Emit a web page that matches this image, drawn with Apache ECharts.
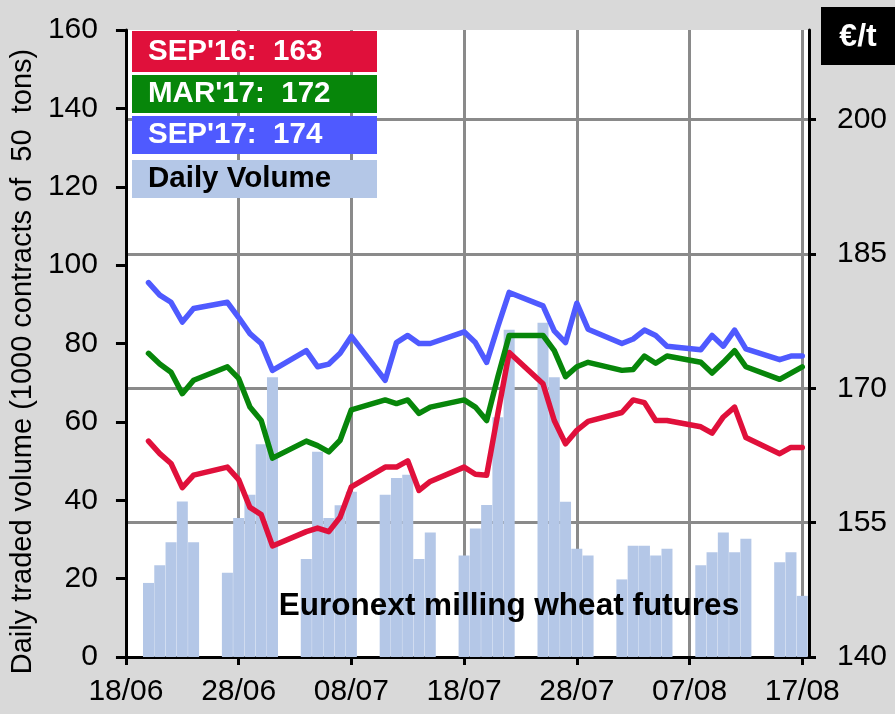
<!DOCTYPE html>
<html><head><meta charset="utf-8">
<script src="https://cdn.jsdelivr.net/npm/echarts@6/dist/echarts.min.js"></script>
<style>html,body{margin:0;padding:0;background:#d9d9d9}#c{width:895px;height:714px}</style>
</head><body><div id="c"></div>
<script>
// ---- data ----
const startDate = [2016, 6, 18];
const tradeDates = [
  '20/06','21/06','22/06','23/06','24/06',
  '27/06','28/06','29/06','30/06','01/07',
  '04/07','05/07','06/07','07/07','08/07',
  '11/07','12/07','13/07','14/07','15/07',
  '18/07','19/07','20/07','21/07','22/07',
  '25/07','26/07','27/07','28/07','29/07',
  '01/08','02/08','03/08','04/08','05/08',
  '08/08','09/08','10/08','11/08','12/08',
  '15/08','16/08','17/08'
];
const volume = [
  18.9, 23.4, 29.3, 39.7, 29.3,
  21.5, 35.5, 41.4, 54.3, 71.4,
  25.0, 52.4, 35.5, 38.7, 42.2,
  41.4, 45.7, 46.5, 25.0, 31.8,
  25.9, 32.8, 38.8, 61.2, 83.5,
  85.3, 71.4, 39.6, 27.6, 25.9,
  19.8, 28.4, 28.4, 25.9, 27.6,
  23.4, 26.7, 31.8, 26.7, 30.2,
  24.2, 26.7, 15.6
];
const sep16 = [
  164.1, 162.7, 161.6, 158.9, 160.3,
  161.2, 159.8, 156.7, 155.9, 152.4,
  154.0, 154.4, 154.0, 155.6, 159.0,
  161.2, 161.2, 161.9, 158.6, 159.6,
  161.2, 160.4, 160.3, 167.2, 174.0,
  170.5, 166.4, 163.8, 165.3, 166.3,
  167.3, 168.7, 168.4, 166.4, 166.4,
  165.7, 165.0, 166.8, 167.9, 164.5,
  162.7, 163.4, 163.4
];
const mar17 = [
  173.9, 172.7, 171.8, 169.4, 170.9,
  172.4, 171.1, 167.9, 166.4, 162.2,
  164.1, 163.6, 162.9, 164.2, 167.6,
  168.7, 168.3, 168.7, 167.2, 167.9,
  168.7, 167.9, 166.4, 171.3, 175.9,
  175.9, 174.2, 171.3, 172.4, 172.9,
  172.0, 172.1, 173.6, 172.8, 173.6,
  172.9, 171.7, 172.9, 174.2, 172.4,
  171.0, 171.7, 172.4
];
const sep17 = [
  181.8, 180.4, 179.6, 177.4, 178.9,
  179.6, 177.9, 176.1, 175.0, 172.0,
  174.2, 172.4, 172.7, 173.9, 175.8,
  170.9, 175.1, 175.9, 175.0, 175.0,
  176.3, 175.1, 172.9, 176.9, 180.7,
  179.2, 176.4, 175.1, 179.5, 176.6,
  175.0, 175.5, 176.5, 175.9, 174.7,
  174.3, 175.9, 174.7, 176.5, 174.4,
  173.2, 173.6, 173.6
];
const xTickLabels = ['18/06','28/06','08/07','18/07','28/07','07/08','17/08'];
const legendLabels = ["SEP'16:  163", "MAR'17:  172", "SEP'17:  174", "Daily Volume"];
const yAxisTitle = 'Daily traded volume (1000 contracts of  50  tons)';
const unitLabel = '€/t';
const noteText = 'Euronext milling wheat futures';

// ---- build ----
const t0 = Date.UTC(startDate[0], startDate[1] - 1, startDate[2]);
const dayIdx = tradeDates.map(s => {
  const [d, m] = s.split('/').map(Number);
  return Math.round((Date.UTC(2016, m - 1, d) - t0) / 86400000);
});
const pairs = arr => arr.map((v, i) => [dayIdx[i], v]);

const FONT = '"Liberation Sans", Arial, sans-serif';
const RED = '#E0103B', GREEN = '#07860A', BLUE = '#4F5AFF', BAR = '#B4C7E7', GRID = '#8a8a8a';

const chart = echarts.init(document.getElementById('c'), null, {renderer: 'canvas'});
const lineSeries = (data, color) => ({
  type: 'line', yAxisIndex: 1, data: pairs(data), showSymbol: false, z: 3,
  lineStyle: {color, width: 5.5, cap: 'round', join: 'round'}, itemStyle: {color}
});
const box = (y, h, fill, text, color) => ({
  type: 'group', z: 100, children: [
    {type: 'rect', shape: {x: 132, y, width: 245, height: h}, style: {fill}, z: 100},
    {type: 'text', x: 148, y: y + h / 2, z: 101,
     style: {text, fill: color, font: 'bold 29.5px ' + FONT, textAlign: 'left', textVerticalAlign: 'middle', align: 'left', verticalAlign: 'middle'}}
  ]
});

chart.setOption({
  animation: false,
  backgroundColor: '#d9d9d9',
  textStyle: {fontFamily: FONT},
  grid: {left: 124, right: 86, top: 30, bottom: 57, show: true, backgroundColor: '#fff', borderWidth: 0, containLabel: false},
  xAxis: {
    type: 'value', min: 0, max: 60.6, interval: 10,
    axisLine: {show: true, lineStyle: {color: '#000', width: 3}},
    axisTick: {show: true, length: 8, lineStyle: {color: '#000', width: 3}},
    axisLabel: {color: '#000', fontSize: 30, margin: 20, showMaxLabel: false, fontFamily: FONT,
      formatter: v => xTickLabels[Math.round(v / 10)] || ''},
    splitLine: {show: true, showMinLine: false, showMaxLine: false, lineStyle: {color: GRID, width: 3}}
  },
  yAxis: [
    {
      type: 'value', position: 'left', min: 0, max: 160, interval: 20,
      axisLine: {show: true, lineStyle: {color: '#000', width: 3}},
      axisTick: {show: true, length: 10, lineStyle: {color: '#000', width: 3}},
      axisLabel: {color: '#000', fontSize: 30, margin: 28, fontFamily: FONT},
      splitLine: {show: false},
      name: yAxisTitle, nameLocation: 'middle', nameRotate: 90, nameGap: 86,
      nameTextStyle: {color: '#000', fontSize: 29, fontFamily: FONT, padding: [0, 36, 0, 0]}
    },
    {
      type: 'value', position: 'right', min: 140, max: 210, interval: 15,
      axisLine: {show: true, lineStyle: {color: '#000', width: 3}},
      axisTick: {show: true, length: 7, lineStyle: {color: '#000', width: 3}},
      axisLabel: {color: '#000', fontSize: 30, margin: 28, showMaxLabel: false, fontFamily: FONT},
      splitLine: {show: true, showMinLine: false, showMaxLine: false, lineStyle: {color: GRID, width: 3}}
    }
  ],
  series: [
    {type: 'bar', yAxisIndex: 0, data: pairs(volume), barWidth: 11, z: 2, itemStyle: {color: BAR}},
    lineSeries(sep16, RED),
    lineSeries(mar17, GREEN),
    lineSeries(sep17, BLUE)
  ],
  graphic: [
    box(31, 41, RED, legendLabels[0], '#fff'),
    box(75, 38, GREEN, legendLabels[1], '#fff'),
    box(116, 38, BLUE, legendLabels[2], '#fff'),
    box(160, 38, BAR, legendLabels[3], '#000'),
    {type: 'rect', z: 100, shape: {x: 821, y: 7, width: 74, height: 58}, style: {fill: '#000'}},
    {type: 'text', z: 101, x: 858, y: 37,
     style: {text: unitLabel, fill: '#fff', font: 'bold 32px ' + FONT, textAlign: 'center', textVerticalAlign: 'middle', align: 'center', verticalAlign: 'middle'}},
    {type: 'text', z: 101, x: 509, y: 606,
     style: {text: noteText, fill: '#000', font: 'bold 31.5px ' + FONT, textAlign: 'center', textVerticalAlign: 'middle', align: 'center', verticalAlign: 'middle'}}
  ]
});
</script></body></html>
